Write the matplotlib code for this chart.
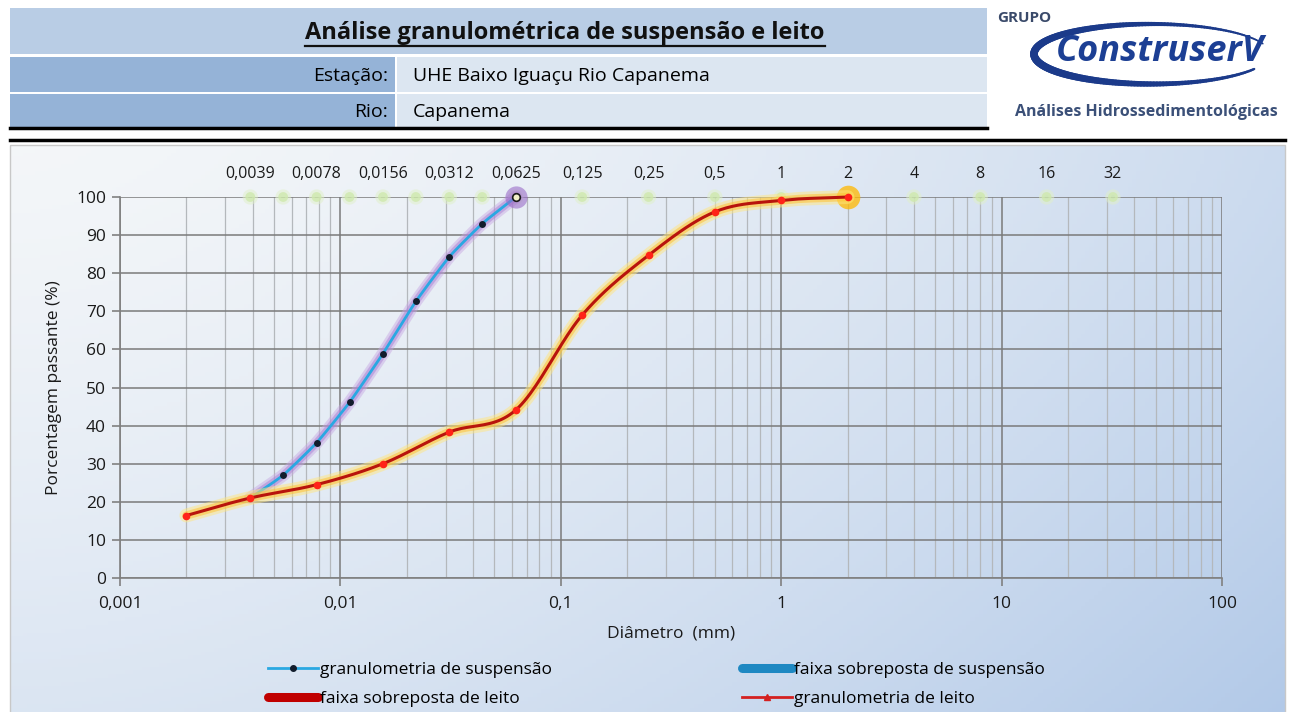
import numpy as np
import matplotlib
matplotlib.use("Agg")
import matplotlib.pyplot as plt
import matplotlib.patheffects as pe
from matplotlib.patches import Rectangle
from matplotlib.lines import Line2D
from matplotlib.collections import LineCollection
from matplotlib.ticker import FixedLocator, NullFormatter

plt.rcParams["font.family"] = ["Open Sans", "DejaVu Sans"]

# --- data ---
susp_d = [0.0039, 0.0055, 0.0078, 0.011, 0.0156, 0.022, 0.0312, 0.044, 0.0625]
susp_p = [21.0, 27.0, 35.5, 46.1, 58.9, 72.6, 84.3, 93.0, 100.0]

bed_d = [0.002, 0.0039, 0.0078, 0.0156, 0.0312, 0.0625, 0.125, 0.25, 0.5, 1, 2]
bed_p = [16.4, 21.0, 24.5, 30.0, 38.3, 44.1, 69.0, 84.7, 96.1, 99.1, 100.0]

class_d = [0.0039, 0.0055, 0.0078, 0.011, 0.0156, 0.022, 0.0312, 0.044, 0.0625,
           0.125, 0.25, 0.5, 1, 2, 4, 8, 16, 32]
top_ticks = [0.0039, 0.0078, 0.0156, 0.0312, 0.0625, 0.125, 0.25, 0.5, 1, 2, 4, 8, 16, 32]
top_labels = ["0,0039", "0,0078", "0,0156", "0,0312", "0,0625", "0,125", "0,25",
              "0,5", "1", "2", "4", "8", "16", "32"]
x_ticks = [0.001, 0.01, 0.1, 1, 10, 100]
x_labels = ["0,001", "0,01", "0,1", "1", "10", "100"]
y_ticks = list(range(0, 101, 10))


def smooth(xs, ys, k=1 / 6, n=24):
    # bezier through the points in log-x space (like excel's smoothed line)
    lx = np.log10(xs)
    y = np.asarray(ys, float)
    px = np.concatenate([[2 * lx[0] - lx[1]], lx, [2 * lx[-1] - lx[-2]]])
    py = np.concatenate([[2 * y[0] - y[1]], y, [2 * y[-1] - y[-2]]])
    t = np.linspace(0, 1, n)
    outx, outy = [], []
    for i in range(1, len(px) - 2):
        seg = []
        for arr in (px, py):
            p0, p1, p2, p3 = arr[i - 1], arr[i], arr[i + 1], arr[i + 2]
            c1 = p1 + (p2 - p0) * k
            c2 = p2 - (p3 - p1) * k
            seg.append((1 - t) ** 3 * p1 + 3 * (1 - t) ** 2 * t * c1
                       + 3 * (1 - t) * t ** 2 * c2 + t ** 3 * p2)
        outx.extend(seg[0])
        outy.extend(seg[1])
    return 10 ** np.array(outx), np.array(outy)


W, H = 1296, 712
fig = plt.figure(figsize=(W / 100, H / 100), dpi=100)
fig.patch.set_facecolor("white")

# background / header layer in pixel coordinates
bg = fig.add_axes([0, 0, 1, 1], zorder=-1)
bg.set_xlim(0, W)
bg.set_ylim(H, 0)
bg.axis("off")

# chart panel gradient
gx, gy = np.meshgrid(np.linspace(0, 1, 300), np.linspace(0, 1, 150))
t = np.clip(0.62 * gx ** 1.6 + 0.38 * gy ** 1.3, 0, 1)
c0 = np.array([0.955, 0.965, 0.975])
c1 = np.array([0.70, 0.79, 0.91])
grad = c0 + (c1 - c0) * t[..., None]
bg.imshow(grad, extent=(10, 1285, H, 145), aspect="auto", zorder=0)
bg.add_patch(Rectangle((10, 145), 1275, 570, fill=False, ec="#c8c8c8", lw=1, zorder=1))

# header table
bg.add_patch(Rectangle((10, 8), 977, 46, fc="#b9cde5", ec="none"))
bg.add_patch(Rectangle((10, 57), 385, 35, fc="#95b3d7", ec="none"))
bg.add_patch(Rectangle((397, 57), 590, 35, fc="#dce6f1", ec="none"))
bg.add_patch(Rectangle((10, 94), 385, 33, fc="#95b3d7", ec="none"))
bg.add_patch(Rectangle((397, 94), 590, 33, fc="#dce6f1", ec="none"))
bg.plot([10, 987], [128, 128], color="black", lw=2.5)
bg.plot([10, 1285], [140, 140], color="black", lw=2.5)

hdr_font = ["Liberation Sans Narrow", "Open Sans", "DejaVu Sans"]
title = bg.text(565, 33, "Análise granulométrica de suspensão e leito", ha="center",
                va="center", fontsize=17, family=hdr_font, weight="bold", color="#111111")
bg.text(388, 76, "Estação:", ha="right", va="center", fontsize=14, family=hdr_font)
bg.text(413, 76, "UHE Baixo Iguaçu Rio Capanema", ha="left", va="center", fontsize=14,
        family=hdr_font)
bg.text(388, 112, "Rio:", ha="right", va="center", fontsize=14, family=hdr_font)
bg.text(413, 112, "Capanema", ha="left", va="center", fontsize=14, family=hdr_font)

# logo
ang = np.linspace(np.deg2rad(20), np.deg2rad(330), 200)
ex = 1152 + 118 * np.cos(ang)
ey = 54 - 30 * np.sin(ang)
pts = np.column_stack([ex, ey])
segs = np.stack([pts[:-1], pts[1:]], axis=1)
widths = 1.0 + 4.5 * np.sin(np.linspace(0.15, np.pi - 0.4, len(segs))) ** 2
bg.add_collection(LineCollection(segs, linewidths=widths, colors="#1b3a8a",
                                 capstyle="round"))
bg.text(997, 18, "GRUPO", ha="left", va="center", fontsize=11, weight="bold",
        color="#3a4a6a", family=hdr_font)
bg.text(1160, 52, "ConstruserV", ha="center", va="center", fontsize=26, weight="bold",
        style="italic", color="#1c3f94", family=hdr_font)
bg.text(1146, 112, "Análises Hidrossedimentológicas", ha="center", va="center",
        fontsize=11.5, weight="bold", color="#3b5078", family=["Open Sans", "DejaVu Sans"])

# main chart
ax = fig.add_axes([120 / W, (H - 578) / H, 1102 / W, 381 / H])
ax.set_facecolor("none")
ax.set_xscale("log")
ax.set_xlim(0.001, 100)
ax.set_ylim(0, 100)

for s in ["top", "right"]:
    ax.spines[s].set_visible(False)
for s in ["left", "bottom"]:
    ax.spines[s].set_color("#808080")
    ax.spines[s].set_linewidth(1.2)

ax.xaxis.set_major_locator(FixedLocator(x_ticks))
ax.set_xticklabels(x_labels)
minors = [m * 10.0 ** e for e in range(-3, 2) for m in range(2, 10)]
ax.xaxis.set_minor_locator(FixedLocator(minors))
ax.xaxis.set_minor_formatter(NullFormatter())
ax.set_yticks(y_ticks)
ax.tick_params(axis="both", which="major", labelsize=12.5, color="#808080", length=6,
               width=1.2, labelcolor="#1a1a1a")
ax.tick_params(axis="x", which="minor", length=0)
ax.tick_params(axis="x", which="major", pad=7)
ax.tick_params(axis="y", which="major", pad=4)
ax.grid(True, which="major", color="#7a7a7a", lw=1.1)
ax.grid(True, which="minor", axis="x", color="#b4b8bc", lw=0.9)
ax.set_axisbelow(True)

ax.set_xlabel("Diâmetro  (mm)", fontsize=12.5, labelpad=10, color="#1a1a1a")
ax.set_ylabel("Porcentagem passante (%)", fontsize=12.5, labelpad=10, color="#1a1a1a")

top = ax.secondary_xaxis("top")
top.set_xticks(top_ticks)
top.set_xticklabels(top_labels)
top.xaxis.set_minor_locator(FixedLocator([]))
top.tick_params(length=0, labelsize=11.5, pad=11, labelcolor="#1a1a1a")
top.spines["top"].set_visible(False)

# grain-class markers along the top
ax.plot(class_d, [100] * len(class_d), "o", ms=7, color="#cde8aa", mec="none", alpha=0.6,
        clip_on=False, zorder=3,
        path_effects=[pe.Stroke(linewidth=4, foreground="#e0f0c8", alpha=0.5), pe.Normal()])

# suspension curve
sx, sy = smooth(susp_d, susp_p, k=1 / 12)
ax.plot(sx, sy, color="#2aa8e2", lw=2, clip_on=False, zorder=4, solid_capstyle="round",
        path_effects=[pe.Stroke(linewidth=9, foreground="#c6a4e2", alpha=0.45),
                      pe.Stroke(linewidth=5.5, foreground="#a97fd4", alpha=0.5), pe.Normal()])
ax.plot(susp_d[-1:], susp_p[-1:], "o", ms=16, color="#9a6cc8", mec="none", alpha=0.6,
        clip_on=False, zorder=4)
ax.plot(susp_d[:-1], susp_p[:-1], "o", ms=5, color="#121c2c", mec="none", zorder=5)
ax.plot(susp_d[-1:], susp_p[-1:], "o", ms=5.5, mfc="#f2f0c8", mec="#1a1a1a", mew=1.2,
        clip_on=False, zorder=5)

# bed curve
bx, by = smooth(bed_d, bed_p)
ax.plot(bed_d[-1:], bed_p[-1:], "o", ms=17, color="#ffb800", mec="none", alpha=0.75,
        clip_on=False, zorder=6)
ax.plot(bx, by, color="#b8140c", lw=2.2, clip_on=False, zorder=6, solid_capstyle="round",
        path_effects=[pe.Stroke(linewidth=10, foreground="#ffe680", alpha=0.5),
                      pe.Stroke(linewidth=6, foreground="#ffc234", alpha=0.55), pe.Normal()])
ax.plot(bed_d, bed_p, "o", ms=5.5, color="#ff2318", mec="none", clip_on=False, zorder=7)

# legend (two columns, reading order as in the reference)
h_susp = Line2D([], [], color="#2aa8e2", lw=2, marker="o", ms=4, mfc="#121c2c", mec="#121c2c")
h_fsusp = Line2D([], [], color="#1e88c2", lw=6.5, solid_capstyle="round")
h_fbed = Line2D([], [], color="#c00000", lw=6.5, solid_capstyle="round")
h_bed = Line2D([], [], color="#d42020", lw=2, marker="^", ms=5, mfc="#d42020", mec="#d42020")

leg_kw = dict(loc="upper left", frameon=False, borderpad=0, borderaxespad=0,
              handlelength=2.9, handletextpad=0.1, labelspacing=0.72, fontsize=12.5)
fig.legend([h_susp, h_fbed], ["granulometria de suspensão", "faixa sobreposta de leito"],
           bbox_to_anchor=(268 / W, 1 - 662 / H), **leg_kw)
fig.legend([h_fsusp, h_bed], ["faixa sobreposta de suspensão", "granulometria de leito"],
           bbox_to_anchor=(742 / W, 1 - 662 / H), **leg_kw)

# underline the title
fig.canvas.draw()
bb = title.get_window_extent().transformed(bg.transData.inverted())
bg.plot([bb.x0, bb.x1], [46, 46], color="#111111", lw=1.6)

fig.savefig("out.png", dpi=100)
